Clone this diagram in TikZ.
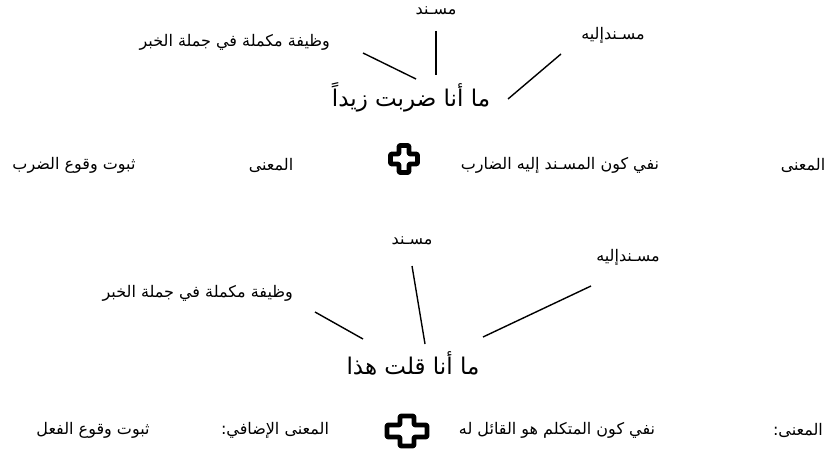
\documentclass[tikz,border=0pt]{standalone}
\usepackage{fontspec}
\newfontfamily\arabicfont[Script=Arabic]{DejaVu Sans}
\TeXXeTstate=1
\tikzset{
  lbl/.style={font=\arabicfont\fontsize{16}{19}\selectfont, inner sep=0pt},
  big/.style={font=\arabicfont\fontsize{23}{27}\selectfont, inner sep=0pt},
  conn/.style={line width=1.4pt, black},
  plusicon/.style={line width=4.8pt, line join=round, rounded corners=1pt, draw=black, fill=white}
}
\newcommand{\plusshape}[4]{% W H a b
  (-#3,-#2) -- (#3,-#2) -- (#3,-#4) -- (#1,-#4) -- (#1,#4) -- (#3,#4) -- (#3,#2) -- (-#3,#2) -- (-#3,#4) -- (-#1,#4) -- (-#1,-#4) -- (-#3,-#4) -- cycle}
\begin{document}
\begin{tikzpicture}[x=1pt,y=-1pt]
\useasboundingbox (0,0) rectangle (826,454);
% ---------- upper example ----------
\node[lbl] (musnad1) at (436,11) {\beginR مسـند\endR};
\node[lbl, anchor=east] (wazifa1) at (330,42) {\beginR وظيفة مكملة في جملة الخبر\endR};
\node[lbl] (musnadilayh1) at (613,35) {\beginR مسـندإليه\endR};
\node[big] (main1) at (411,97) {\beginR ما أنا ضربت زيداً\endR};
\coordinate (a1) at (363,53);
\coordinate (a2) at (416,79);
\coordinate (b1) at (436,31);
\coordinate (b2) at (436,75);
\coordinate (c1) at (561,54);
\coordinate (c2) at (508,99);
\draw[conn] (a1) -- (a2);
\draw[conn] (b1) -- (b2);
\draw[conn] (c1) -- (c2);
% row 1
\node[lbl] (mana1) at (803,165) {\beginR المعنى\endR};
\node[lbl] (nafy1) at (560,165) {\beginR نفي كون المسـند إليه الضارب\endR};
\node[lbl] (mana2) at (271,165) {\beginR المعنى\endR};
\node[lbl] (thubut1) at (74,165) {\beginR ثبوت وقوع الضرب\endR};
\draw[plusicon, shift={(404,159)}] \plusshape{13.5}{13.5}{5}{5};
% ---------- lower example ----------
\node[lbl] (musnad2) at (412,241) {\beginR مسـند\endR};
\node[lbl] (musnadilayh2) at (628,257) {\beginR مسـندإليه\endR};
\node[lbl, anchor=east] (wazifa2) at (293,293) {\beginR وظيفة مكملة في جملة الخبر\endR};
\node[big] (main2) at (413,363) {\beginR ما أنا قلت هذا\endR};
\coordinate (d1) at (315,312);
\coordinate (d2) at (363,339);
\coordinate (e1) at (412,266);
\coordinate (e2) at (425,344);
\coordinate (f1) at (591,286);
\coordinate (f2) at (483,337);
\draw[conn] (d1) -- (d2);
\draw[conn] (e1) -- (e2);
\draw[conn] (f1) -- (f2);
% row 2
\node[lbl] (mana3) at (798,430) {\beginR المعنى:\endR};
\node[lbl] (nafy2) at (557,430) {\beginR نفي كون المتكلم هو القائل له\endR};
\node[lbl] (mana4) at (275,430) {\beginR المعنى الإضافي:\endR};
\node[lbl] (thubut2) at (93,430) {\beginR ثبوت وقوع الفعل\endR};
\draw[plusicon, shift={(407,431)}] \plusshape{20}{15}{7}{6};
\end{tikzpicture}
\end{document}
